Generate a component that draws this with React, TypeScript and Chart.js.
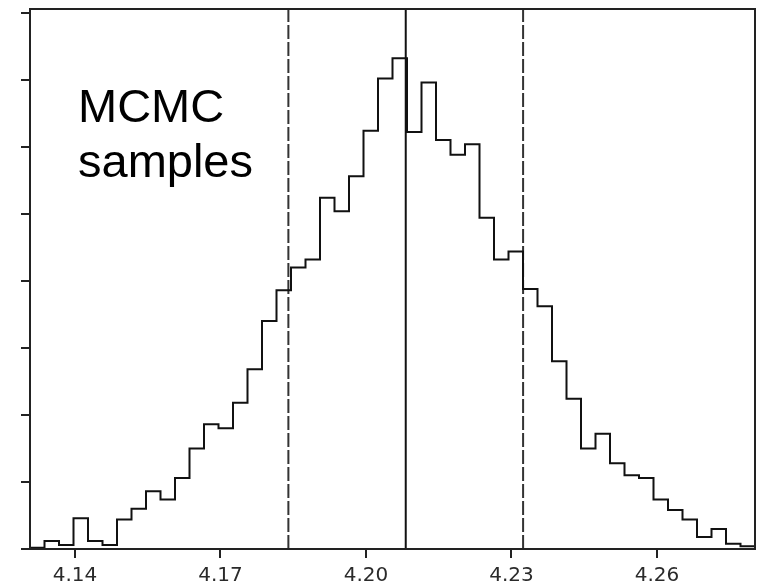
import React, { useEffect, useRef } from "react";
import { Chart, registerables } from "chart.js";

Chart.register(...registerables);

// Histogram definition (50 equal bins spanning the x range)
const binStart = 4.13072;
const binWidth = 0.00299;
const binCounts = [
  1, 6, 3, 23, 6, 3, 22, 30, 43, 37,
  53, 75, 93, 90, 109, 134, 170, 193, 210, 216,
  262, 252, 278, 312, 351, 366, 311, 348, 305, 294,
  302, 247, 216, 222, 194, 181, 140, 112, 75, 86,
  64, 55, 53, 37, 29, 22, 9, 15, 4, 2,
];

// Summary lines: median (solid) and 16th/84th percentiles (dashed)
const medianValue = 4.2082;
const lowerValue = 4.184;
const upperValue = 4.2324;

const xTicks = [4.14, 4.17, 4.2, 4.23, 4.26];
const yTicks = [0, 50, 100, 150, 200, 250, 300, 350, 400];
const xMin = 4.13072;
const xMax = 4.28022;
const yMax = 402.8;

const annotationLines = ["MCMC", "samples"];

export default function App() {
  const ref = useRef<HTMLCanvasElement | null>(null);

  useEffect(() => {
    if (!ref.current) return;
    const edges = binCounts.map((_, i) => binStart + i * binWidth);
    const lastEdge = binStart + binCounts.length * binWidth;
    const histPoints = [
      { x: edges[0], y: 0 },
      ...binCounts.map((c, i) => ({ x: edges[i], y: c })),
      { x: lastEdge, y: 0 },
    ];
    const vline = (v: number) => [
      { x: v, y: 0 },
      { x: v, y: yMax },
    ];

    const framePlugin = {
      id: "frameAndText",
      afterDraw(chart: any) {
        const { ctx, chartArea } = chart;
        ctx.save();
        ctx.strokeStyle = "#222";
        ctx.lineWidth = 2;
        ctx.strokeRect(
          chartArea.left,
          chartArea.top,
          chartArea.right - chartArea.left,
          chartArea.bottom - chartArea.top
        );
        ctx.fillStyle = "#000";
        ctx.font = '47px "Liberation Sans", Arial, sans-serif';
        ctx.textAlign = "left";
        ctx.textBaseline = "alphabetic";
        ctx.fillText(annotationLines[0], 78, 122);
        ctx.fillText(annotationLines[1], 78, 177);
        ctx.restore();
      },
    };

    const chart = new Chart(ref.current, {
      type: "line",
      data: {
        datasets: [
          {
            data: histPoints,
            stepped: "before",
            borderColor: "#111",
            borderWidth: 2,
            pointRadius: 0,
            fill: false,
          },
          {
            data: vline(lowerValue),
            borderColor: "#333",
            borderWidth: 2,
            borderDash: [14, 3],
            pointRadius: 0,
          },
          {
            data: vline(medianValue),
            borderColor: "#111",
            borderWidth: 2,
            pointRadius: 0,
          },
          {
            data: vline(upperValue),
            borderColor: "#333",
            borderWidth: 2,
            borderDash: [14, 3],
            pointRadius: 0,
          },
        ],
      },
      options: {
        responsive: false,
        animation: false,
        events: [],
        devicePixelRatio: 1,
        layout: { padding: { top: 9, right: 5, left: 0, bottom: 0 } },
        plugins: {
          legend: { display: false },
          tooltip: { enabled: false },
        },
        scales: {
          x: {
            type: "linear",
            min: xMin,
            max: xMax,
            border: { display: false },
            grid: {
              drawOnChartArea: false,
              drawTicks: true,
              tickLength: 9,
              color: "#222",
              lineWidth: 2,
            },
            ticks: {
              padding: 6,
              color: "#2a2a2a",
              font: { family: '"DejaVu Sans", sans-serif', size: 20 },
              callback: (v: any) => Number(v).toFixed(2),
              maxRotation: 0,
            },
            afterBuildTicks: (scale: any) => {
              scale.ticks = xTicks.map((v) => ({ value: v }));
            },
            afterFit: (scale: any) => {
              scale.height = 32;
            },
          },
          y: {
            type: "linear",
            min: 0,
            max: yMax,
            border: { display: false },
            grid: {
              drawOnChartArea: false,
              drawTicks: true,
              tickLength: 9,
              color: "#222",
              lineWidth: 2,
            },
            ticks: { display: false },
            afterBuildTicks: (scale: any) => {
              scale.ticks = yTicks.map((v) => ({ value: v }));
            },
            afterFit: (scale: any) => {
              scale.width = 30;
            },
          },
        },
      },
      plugins: [framePlugin],
    } as any);

    return () => chart.destroy();
  }, []);

  return (
    <div
      style={{
        position: "absolute",
        left: 0,
        top: 0,
        width: 760,
        height: 581,
        background: "#fff",
      }}
    >
      <canvas ref={ref} width={760} height={581} />
    </div>
  );
}
